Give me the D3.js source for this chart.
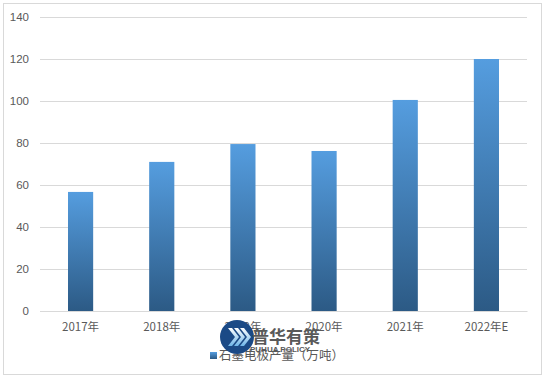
<!DOCTYPE html>
<html>
<head>
<meta charset="utf-8">
<script src="https://cdn.jsdelivr.net/npm/d3@7"></script>
<style>
  body { margin: 0; background: #fff; }
  text { font-family: "Liberation Sans", "Noto Sans CJK SC", sans-serif; fill: #595959; }
  .cjk { font-family: "Noto Sans CJK SC", sans-serif; }
</style>
</head>
<body>
<div id="chart"></div>
<script>
const categories = ['2017年', '2018年', '2019年', '2020年', '2021年', '2022年E'];
const output = [56.7, 71, 79.5, 76.2, 100.5, 120];
const yTicks = [0, 20, 40, 60, 80, 100, 120, 140];
const seriesName = '石墨电极产量（万吨）';

const W = 545, H = 378;
const margin = { top: 17, right: 18, bottom: 67, left: 40 };
const width = W - margin.left - margin.right;
const height = H - margin.top - margin.bottom;

const svg = d3.select('#chart').append('svg')
  .attr('width', W).attr('height', H);

// outer frame
svg.append('rect')
  .attr('x', 3.5).attr('y', 3.5)
  .attr('width', 538).attr('height', 371)
  .attr('fill', '#fff').attr('stroke', '#d9d9d9');

const defs = svg.append('defs');
const grad = defs.append('linearGradient')
  .attr('id', 'barGrad').attr('x1', 0).attr('y1', 0).attr('x2', 0).attr('y2', 1);
grad.append('stop').attr('offset', '0%').attr('stop-color', '#559ddf');
grad.append('stop').attr('offset', '100%').attr('stop-color', '#2c5a85');

const chev = defs.append('linearGradient')
  .attr('id', 'chevGrad').attr('x1', 0).attr('y1', 0).attr('x2', 0).attr('y2', 1);
chev.append('stop').attr('offset', '0%').attr('stop-color', '#ffffff');
chev.append('stop').attr('offset', '100%').attr('stop-color', '#6fb6e8');

const g = svg.append('g')
  .attr('transform', `translate(${margin.left},${margin.top})`);

const x = d3.scaleBand().domain(categories).range([0, width]).paddingInner(0.69).paddingOuter(0.345);
const y = d3.scaleLinear().domain([0, 140]).range([height, 0]);

// gridlines
g.append('g')
  .call(d3.axisLeft(y).tickValues(yTicks).tickSize(-width).tickFormat(''))
  .call((s) => s.select('.domain').remove())
  .call((s) => s.selectAll('line').attr('stroke', '#d9d9d9'));

// y labels
g.append('g')
  .call(d3.axisLeft(y).tickValues(yTicks).tickSize(0).tickPadding(11))
  .call((s) => s.select('.domain').remove())
  .call((s) => s.selectAll('text').style('font-size', '11.5px').attr('fill', '#595959'));

// bars
g.selectAll('.bar')
  .data(output)
  .join('rect')
  .attr('class', 'bar')
  .attr('x', (d, i) => x(categories[i]))
  .attr('y', (d) => y(d))
  .attr('width', x.bandwidth())
  .attr('height', (d) => height - y(d))
  .attr('fill', 'url(#barGrad)');

// x axis
g.append('g')
  .attr('transform', `translate(0,${height})`)
  .call(d3.axisBottom(x).tickSize(0).tickPadding(12))
  .call((s) => s.select('.domain').attr('stroke', '#d9d9d9'))
  .call((s) => s.selectAll('text').attr('class', 'cjk').style('font-size', '11.5px').attr('fill', '#595959'));

// legend
const leg = svg.append('g').attr('transform', 'translate(210,352)');
leg.append('rect').attr('width', 7).attr('height', 7).attr('fill', 'url(#barGrad)');
leg.append('text').attr('class', 'cjk')
  .attr('x', 9).attr('y', 8)
  .style('font-size', '12.5px')
  .text(seriesName);

// watermark logo (drawn over the chart, as in the source image)
const logo = svg.append('g').attr('transform', 'translate(237,337)');
logo.append('circle').attr('r', 17).attr('fill', '#1b4a86');
[-9, -3, 3].forEach((dx) => {
  logo.append('path')
    .attr('d', `M${dx},-9 L${dx + 7},0 L${dx},9 L${dx + 4},9 L${dx + 11},0 L${dx + 4},-9 Z`)
    .attr('fill', 'url(#chevGrad)');
});
svg.append('text').attr('class', 'cjk')
  .attr('x', 252).attr('y', 343)
  .style('font-size', '17px').style('font-weight', 'bold')
  .attr('fill', '#1b4a86')
  .text('普华有策');
svg.append('text')
  .attr('x', 250).attr('y', 352)
  .style('font-size', '8px').style('font-weight', 'bold')
  .attr('fill', '#1b4a86')
  .text('PUHUA POLICY');
</script>
</body>
</html>
